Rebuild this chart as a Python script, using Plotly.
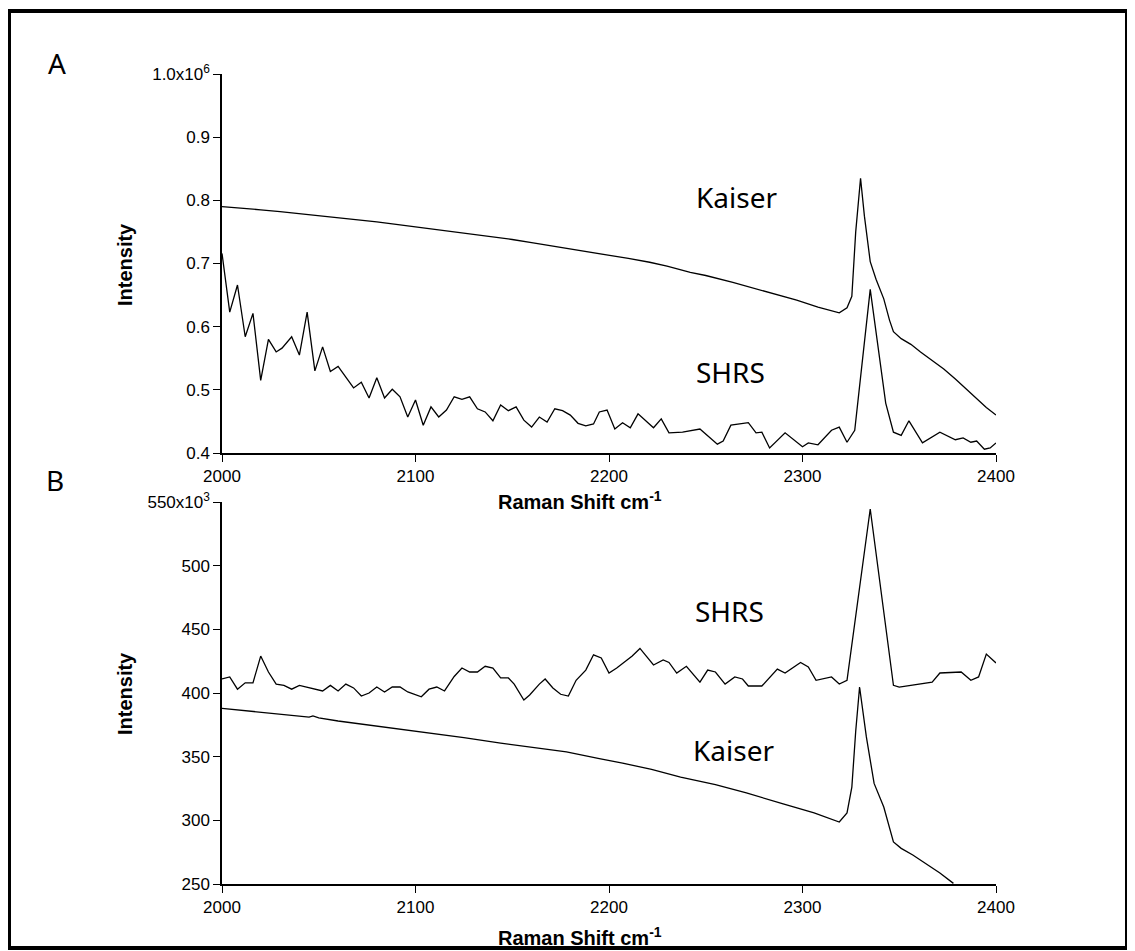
import plotly.graph_objects as go

# ---------------- Data ----------------
# Panel A (intensity in units of 1e6)
a_shrs_x = [2000, 2004, 2008, 2012, 2016, 2020, 2024, 2028, 2031, 2036, 2040, 2044, 2048, 2052,
            2056, 2060, 2064, 2068, 2072, 2076, 2080, 2084, 2088, 2092, 2096, 2100, 2104, 2108,
            2112, 2116, 2120, 2124, 2128, 2132, 2136, 2140, 2144, 2148, 2152, 2156, 2160, 2164,
            2168, 2172, 2176, 2180, 2184, 2188, 2192, 2195, 2199, 2203, 2207, 2211, 2215, 2223,
            2227, 2231, 2238, 2247, 2256, 2259, 2263, 2272, 2276, 2279, 2283, 2291, 2300, 2303,
            2308, 2315, 2319, 2323, 2327, 2335, 2343, 2347, 2351, 2355, 2362, 2371, 2379, 2383,
            2387, 2390, 2394, 2397, 2400]
a_shrs_y = [0.716, 0.623, 0.666, 0.584, 0.621, 0.515, 0.580, 0.560, 0.566, 0.584, 0.555, 0.623,
            0.530, 0.568, 0.529, 0.537, 0.520, 0.503, 0.512, 0.487, 0.519, 0.487, 0.501, 0.489,
            0.457, 0.484, 0.444, 0.473, 0.457, 0.468, 0.489, 0.485, 0.489, 0.470, 0.465, 0.451,
            0.476, 0.467, 0.473, 0.452, 0.441, 0.457, 0.449, 0.470, 0.467, 0.460, 0.447, 0.443,
            0.446, 0.465, 0.468, 0.438, 0.448, 0.440, 0.462, 0.440, 0.454, 0.432, 0.433, 0.438,
            0.414, 0.419, 0.444, 0.448, 0.432, 0.433, 0.408, 0.432, 0.410, 0.416, 0.413, 0.436,
            0.441, 0.417, 0.436, 0.659, 0.479, 0.433, 0.428, 0.451, 0.416, 0.433, 0.421, 0.424,
            0.417, 0.419, 0.406, 0.408, 0.416]

a_kaiser_x = [2000, 2010, 2020, 2030, 2040, 2050, 2060, 2070, 2080, 2090, 2100, 2110, 2120, 2130,
              2140, 2150, 2160, 2170, 2180, 2190, 2200, 2210, 2221, 2230, 2242, 2250, 2264, 2275,
              2287, 2297, 2308, 2315, 2319, 2323, 2325.5, 2327.5, 2330, 2332, 2335, 2338, 2342,
              2345, 2347, 2351, 2356, 2361, 2367, 2373, 2379, 2385, 2390, 2395, 2400]
a_kaiser_y = [0.790, 0.788, 0.785, 0.782, 0.779, 0.776, 0.773, 0.770, 0.766, 0.762, 0.758, 0.755,
              0.751, 0.746, 0.742, 0.738, 0.733, 0.728, 0.724, 0.719, 0.714, 0.708, 0.702, 0.696,
              0.686, 0.681, 0.670, 0.661, 0.651, 0.642, 0.631, 0.626, 0.622, 0.630, 0.648, 0.750,
              0.835, 0.775, 0.703, 0.675, 0.644, 0.610, 0.592, 0.581, 0.572, 0.560, 0.547, 0.533,
              0.517, 0.500, 0.485, 0.472, 0.460]

# Panel B (intensity in units of 1e3)
b_shrs_x = [2000, 2004, 2008, 2012, 2016, 2020, 2024, 2028, 2032, 2036, 2040, 2044, 2048, 2052,
            2056, 2060, 2064, 2068, 2072, 2076, 2080, 2084, 2088, 2092, 2096, 2100, 2103, 2107,
            2111, 2115, 2120, 2124, 2128, 2132, 2136, 2140, 2144, 2148, 2151, 2156, 2159, 2164,
            2167, 2171, 2175, 2179, 2183, 2188, 2192, 2196, 2200, 2204, 2208, 2212, 2216, 2223,
            2228, 2231, 2235, 2240, 2247, 2251, 2255, 2260, 2265, 2269, 2272, 2279, 2287, 2291,
            2299, 2303, 2307, 2315, 2319, 2323, 2335, 2347, 2350, 2367, 2371, 2382, 2387, 2391,
            2395, 2400]
b_shrs_y = [411, 412.6, 403, 408, 408, 429, 416.5, 407, 406, 403, 406, 404.7, 403, 401.6, 406,
            401.6, 407, 404, 397.6, 400, 404.7, 400.8, 404.7, 404.7, 400.8, 398.4, 397, 403,
            404.7, 401.6, 413, 419.6, 416.5, 416.5, 421, 419.6, 411.8, 411.8, 407, 394.5, 398.4,
            407, 411, 404, 399, 397.6, 410, 418, 430, 427.5, 415.7, 419.6, 424, 429, 435, 422,
            426, 424, 415.7, 421, 408.6, 418, 416.5, 407, 412.6, 411, 405.5, 405.5, 418.8, 415.7,
            424, 420.4, 410, 412.6, 407, 410, 544.5, 406, 404.7, 408.6, 415.7, 416.5, 410, 412.6,
            430.6, 423.6]

b_kaiser_x = [2000, 2010, 2023, 2035, 2045, 2047, 2050, 2060, 2075, 2090, 2109, 2125, 2144, 2160,
              2178, 2195, 2207, 2222, 2237, 2255, 2271, 2290, 2306, 2319, 2323, 2325.5, 2327.5,
              2329.5, 2333, 2337, 2342, 2347, 2351, 2357, 2366, 2371, 2378]
b_kaiser_y = [388, 386.5, 384, 382.5, 381, 382, 380.5, 378, 375, 372, 368.6, 365, 360.7, 357.5,
              353.7, 348.5, 345, 340, 334, 328, 321.5, 313, 305.8, 298.7, 305.8, 326, 370,
              404.7, 365.5, 329, 310.5, 283, 278, 272.8, 263.4, 258.6, 250.5]

x_ticks = [2000, 2100, 2200, 2300, 2400]
a_ytick_vals = [0.4, 0.5, 0.6, 0.7, 0.8, 0.9, 1.0]
a_ytick_text = ["0.4", "0.5", "0.6", "0.7", "0.8", "0.9", "1.0x10<sup>6</sup>"]
b_ytick_vals = [250, 300, 350, 400, 450, 500, 550]
b_ytick_text = ["250", "300", "350", "400", "450", "500", "550x10<sup>3</sup>"]

# ---------------- Geometry helpers ----------------
OFF = 8                   # page body margin offset
W, H = 1135 - OFF, 951 - OFF
L, R = 222, 996           # plot area left/right (page px)
T, B = 74, 884            # overall top/bottom (page px)
A_BOTTOM, B_TOP = 453, 502


def px(xp):
    return (xp - L) / (R - L)


def py(yp):
    return (B - yp) / (B - T)


line_style = dict(color="black", width=1.3)
tick_font = dict(family="Liberation Sans, Arial", size=17, color="black")
title_font = dict(family="Liberation Sans, Arial", size=20, color="black")
label_font = dict(family="Noto Sans, Open Sans, sans-serif", size=28, color="black")

fig = go.Figure()
fig.add_trace(go.Scatter(x=a_kaiser_x, y=a_kaiser_y, mode="lines", line=line_style, xaxis="x", yaxis="y"))
fig.add_trace(go.Scatter(x=a_shrs_x, y=a_shrs_y, mode="lines", line=line_style, xaxis="x", yaxis="y"))
fig.add_trace(go.Scatter(x=b_shrs_x, y=b_shrs_y, mode="lines", line=line_style, xaxis="x2", yaxis="y2"))
fig.add_trace(go.Scatter(x=b_kaiser_x, y=b_kaiser_y, mode="lines", line=line_style, xaxis="x2", yaxis="y2"))

axis_common = dict(showgrid=False, zeroline=False, showline=True, linecolor="black", linewidth=1.5,
                   ticks="outside", ticklen=7, tickwidth=1.3, tickcolor="black", tickfont=tick_font)

fig.update_layout(
    width=W, height=H,
    margin=dict(l=L - OFF, r=W - (R - OFF), t=T - OFF, b=H - (B - OFF), autoexpand=False),
    paper_bgcolor="white", plot_bgcolor="white",
    showlegend=False,
    xaxis=dict(domain=[0, 1], range=[2000, 2400], anchor="y", tickvals=x_ticks, **axis_common),
    yaxis=dict(domain=[py(A_BOTTOM), 1], range=[0.4, 1.0], anchor="x",
               tickvals=a_ytick_vals, ticktext=a_ytick_text, **axis_common),
    xaxis2=dict(domain=[0, 1], range=[2000, 2400], anchor="y2", tickvals=x_ticks, **axis_common),
    yaxis2=dict(domain=[0, py(B_TOP)], range=[250, 550], anchor="x2",
                tickvals=b_ytick_vals, ticktext=b_ytick_text, **axis_common),
)

annotations = [
    # axis titles
    dict(text="<b>Raman Shift cm<sup>-1</sup></b>", x=px(580), y=py(500), font=title_font),
    dict(text="<b>Raman Shift cm<sup>-1</sup></b>", x=px(580), y=py(936), font=title_font),
    dict(text="<b>Intensity</b>", x=px(125), y=py(264), textangle=-90, font=title_font),
    dict(text="<b>Intensity</b>", x=px(125), y=py(693), textangle=-90, font=title_font),
    # panel letters
    dict(text="A", x=px(57), y=py(63), font=label_font),
    dict(text="B", x=px(55), y=py(480), font=label_font),
    # series labels
    dict(text="Kaiser", x=px(736), y=py(197), font=label_font),
    dict(text="SHRS", x=px(730), y=py(372), font=label_font),
    dict(text="SHRS", x=px(729), y=py(611), font=label_font),
    dict(text="Kaiser", x=px(733), y=py(750), font=label_font),
]
for a in annotations:
    a.update(xref="paper", yref="paper", showarrow=False, xanchor="center", yanchor="middle")
fig.update_layout(annotations=annotations)

# outer frame
fig.add_shape(type="rect", xref="paper", yref="paper",
              x0=px(9), x1=px(1127), y0=py(948), y1=py(11),
              line=dict(color="black", width=4), fillcolor="rgba(0,0,0,0)", layer="above")

fig.write_html("out.html")
